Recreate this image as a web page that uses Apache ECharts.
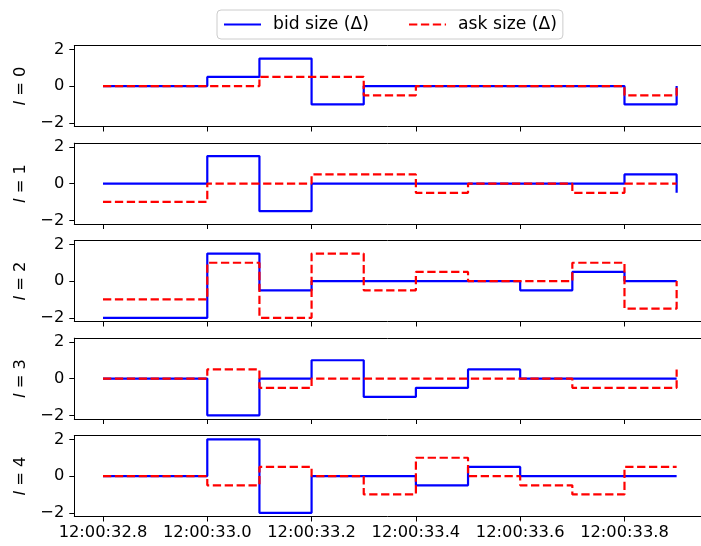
<!DOCTYPE html>
<html>
<head>
<meta charset="utf-8">
<script src="https://cdn.jsdelivr.net/npm/echarts@6/dist/echarts.min.js"></script>
<style>
  html, body { margin: 0; padding: 0; background: #fff; }
  #chart { width: 701px; height: 546px; }
</style>
</head>
<body>
<div id="chart"></div>
<script>
// Timestamps of the order-book snapshots (seconds after 12:00:00)
const times = [32.8, 33.0, 33.1, 33.2, 33.3, 33.4, 33.5, 33.6, 33.7, 33.8, 33.9];
const xTicks = [32.8, 33.0, 33.2, 33.4, 33.6, 33.8];
const yTicks = [-2, 0, 2];
const levels = [0, 1, 2, 3, 4];

// Change in bid / ask size per book level
const bidL0 = [0, 0.5, 1.5, -1, 0, 0, 0, 0, 0, -1, 0];
const askL0 = [0, 0, 0.5, 0.5, -0.5, 0, 0, 0, 0, -0.5, 0];
const bidL1 = [0, 1.5, -1.5, 0, 0, 0, 0, 0, 0, 0.5, -0.5];
const askL1 = [-1, 0, 0, 0.5, 0.5, -0.5, 0, 0, -0.5, 0, 0];
const bidL2 = [-2, 1.5, -0.5, 0, 0, 0, 0, -0.5, 0.5, 0, 0];
const askL2 = [-1, 1, -2, 1.5, -0.5, 0.5, 0, 0, 1, -1.5, 0];
const bidL3 = [0, -2, 0, 1, -1, -0.5, 0.5, 0, 0, 0, 0];
const askL3 = [0, 0.5, -0.5, 0, 0, 0, 0, 0, -0.5, -0.5, 0.5];
const bidL4 = [0, 2, -2, 0, 0, -0.5, 0.5, 0, 0, 0, 0];
const askL4 = [0, -0.5, 0.5, 0, -1, 1, 0, -0.5, -1, 0.5, 0.5];

const bidSeries = [bidL0, bidL1, bidL2, bidL3, bidL4];
const askSeries = [askL0, askL1, askL2, askL3, askL4];

const FONT = '"DejaVu Sans", sans-serif';
const TICK_FS = 16.3, LEGEND_FS = 17.2;
const GRID_LEFT = 74.3, PX_PER_SEC = 521.5;
const X_MIN = 32.745, X_MAX = X_MIN + (701 - GRID_LEFT) / PX_PER_SEC;
const TOP0 = 45.7, STEP = 97.5, HEIGHT = 80.8;

const fmtY = v => (v < 0 ? '\u2212' + Math.abs(v) : String(v));
const fmtX = v => '12:00:' + v.toFixed(1);
const spine = { show: true, onZero: false, lineStyle: { color: '#000', width: 1 } };

const grids = [], xAxes = [], yAxes = [], series = [];
levels.forEach((lvl, i) => {
  grids.push({ left: GRID_LEFT, right: 0, top: TOP0 + i * STEP, height: HEIGHT });
  const last = i === levels.length - 1;
  // bottom axis: ticks on every panel, labels only on the lowest one
  xAxes.push({
    type: 'value', gridIndex: i, min: X_MIN, max: X_MAX, position: 'bottom',
    axisLine: spine,
    splitLine: { show: false },
    axisTick: { show: true, inside: false, length: 5, customValues: xTicks,
                lineStyle: { color: '#000', width: 1 } },
    axisLabel: { show: last, customValues: xTicks, formatter: fmtX,
                 color: '#000', fontFamily: FONT, fontSize: TICK_FS, margin: 8 }
  });
  // top spine
  xAxes.push({
    type: 'value', gridIndex: i, min: X_MIN, max: X_MAX, position: 'top',
    axisLine: spine, axisTick: { show: false }, axisLabel: { show: false },
    splitLine: { show: false }
  });
  yAxes.push({
    type: 'value', gridIndex: i, min: -2.2, max: 2.2,
    name: '{i|l} = ' + lvl,
    nameLocation: 'middle', nameRotate: 90, nameGap: 46,
    nameTextStyle: { color: '#000', fontFamily: FONT, fontSize: TICK_FS,
                     rich: { i: { fontStyle: 'italic', fontFamily: FONT, fontSize: TICK_FS, color: '#000' } } },
    axisLine: spine,
    splitLine: { show: false },
    axisTick: { show: true, inside: false, length: 5, customValues: yTicks,
                lineStyle: { color: '#000', width: 1 } },
    axisLabel: { customValues: yTicks, formatter: fmtY,
                 color: '#000', fontFamily: FONT, fontSize: TICK_FS, margin: 10 }
  });
  series.push({
    name: 'bid size (\u0394)', type: 'line', step: 'end', xAxisIndex: 2 * i, yAxisIndex: i,
    data: times.map((t, k) => [t, bidSeries[i][k]]),
    symbol: 'none', lineStyle: { color: '#0000ff', width: 2.2 },
    itemStyle: { color: '#0000ff' }, z: 2
  });
  series.push({
    name: 'ask size (\u0394)', type: 'line', step: 'end', xAxisIndex: 2 * i, yAxisIndex: i,
    data: times.map((t, k) => [t, askSeries[i][k]]),
    symbol: 'none', lineStyle: { color: '#ff0000', width: 2.2, type: [8.3, 3.6] },
    itemStyle: { color: '#ff0000' }, z: 3
  });
});

const chart = echarts.init(document.getElementById('chart'), null, { renderer: 'canvas' });
chart.setOption({
  animation: false,
  backgroundColor: '#fff',
  legend: {
    data: ['bid size (\u0394)', 'ask size (\u0394)'],
    left: 217, top: 10,
    padding: [6, 6, 6, 6],
    itemWidth: 37, itemHeight: 20, itemGap: 39,
    itemStyle: { opacity: 0 },
    borderColor: '#cccccc', borderWidth: 1, borderRadius: 4,
    textStyle: { color: '#000', fontFamily: FONT, fontSize: LEGEND_FS, padding: [0, 0, 0, 7] }
  },
  grid: grids,
  xAxis: xAxes,
  yAxis: yAxes,
  series: series
});
</script>
</body>
</html>
